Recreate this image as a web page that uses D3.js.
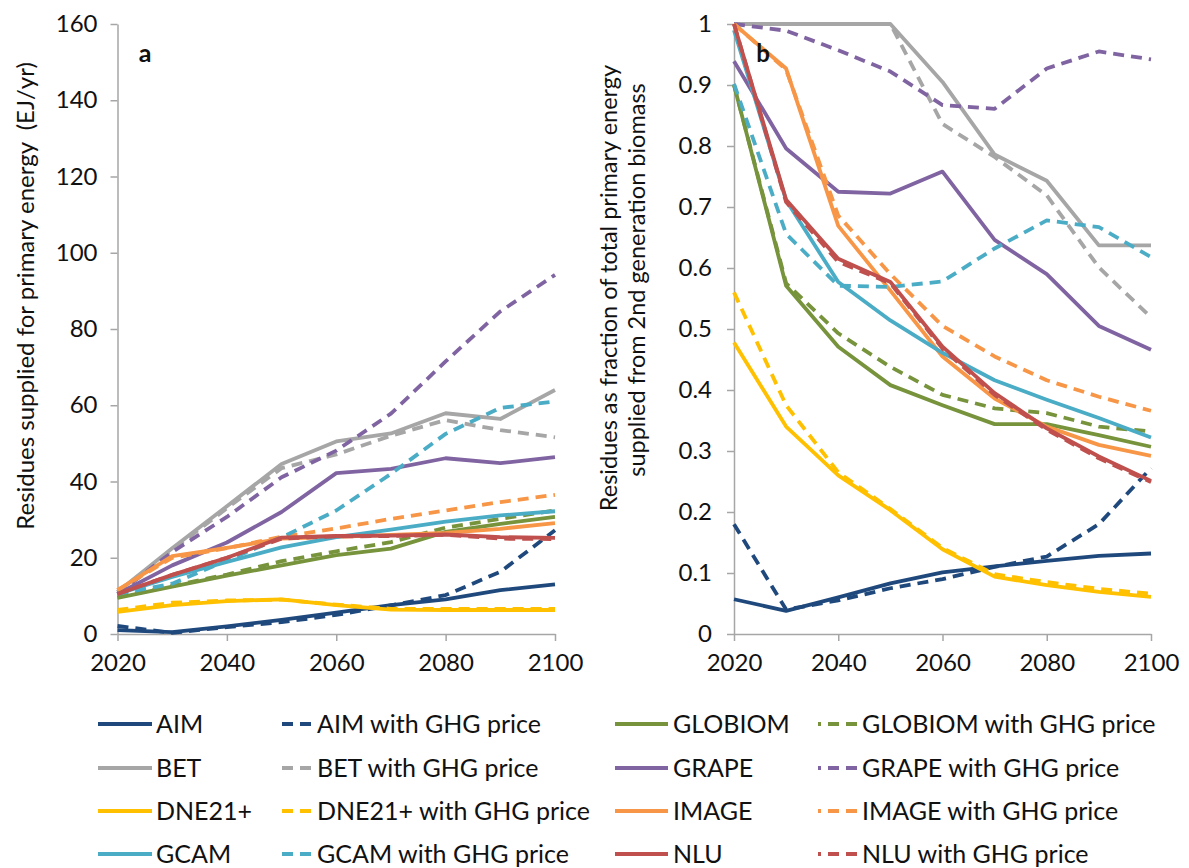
<!DOCTYPE html>
<html>
<head>
<meta charset="utf-8">
<script src="https://cdn.jsdelivr.net/npm/d3@7"></script>
<style>
  html, body { margin: 0; padding: 0; background: #fff; }
  svg { display: block; }
  text { font-family: "Lato", "Noto Sans", sans-serif; fill: #111; white-space: pre; }
</style>
</head>
<body>
<svg id="chart" width="1189" height="868"></svg>
<script>
// ---- data -------------------------------------------------------------
const years = [2020, 2030, 2040, 2050, 2060, 2070, 2080, 2090, 2100];
const xTicks = [2020, 2040, 2060, 2080, 2100];
const yTicksA = [0, 20, 40, 60, 80, 100, 120, 140, 160];
const yTicksB = [0, 0.1, 0.2, 0.3, 0.4, 0.5, 0.6, 0.7, 0.8, 0.9, 1];

const models = ["AIM", "GLOBIOM", "BET", "GRAPE", "DNE21+", "IMAGE", "GCAM", "NLU"];
const modelColors = ["#1F497D", "#77933C", "#A6A6A6", "#8064A2", "#FFC000", "#F79646", "#4BACC6", "#C0504D"];

// residues supplied for primary energy (EJ/yr)
const energyBase = {
  "AIM":     [1.0, 0.5, 2.0, 3.7, 5.6, 7.6, 9.1, 11.5, 13.0],
  "GLOBIOM": [9.5, 12.4, 15.3, 18.0, 20.7, 22.4, 26.8, 28.9, 30.7],
  "BET":     [11.0, 22.5, 33.5, 44.6, 50.5, 52.6, 57.9, 56.4, 64.0],
  "GRAPE":   [10.5, 18.0, 24.0, 32.0, 42.2, 43.3, 46.1, 44.8, 46.4],
  "DNE21+":  [5.8, 7.6, 8.6, 9.1, 7.6, 6.4, 6.3, 6.3, 6.3],
  "IMAGE":   [11.5, 20.4, 22.6, 25.0, 25.5, 26.0, 26.5, 27.6, 29.1],
  "GCAM":    [10.5, 15.0, 18.9, 22.7, 25.4, 27.4, 29.5, 31.1, 32.2],
  "NLU":     [10.5, 15.5, 20.0, 25.3, 25.7, 25.8, 26.1, 25.4, 25.2]
};
const energyGhg = {
  "AIM":     [2.1, 0.3, 1.8, 3.1, 5.0, 7.5, 10.2, 16.3, 27.2],
  "GLOBIOM": [9.7, 12.6, 15.6, 19.1, 21.7, 24.1, 27.9, 30.2, 32.4],
  "BET":     [11.0, 22.0, 33.0, 43.5, 47.1, 52.0, 56.1, 53.5, 51.6],
  "GRAPE":   [10.5, 21.5, 30.7, 41.1, 48.1, 57.8, 71.5, 84.6, 94.2],
  "DNE21+":  [6.3, 8.2, 8.8, 9.0, 7.7, 6.6, 6.6, 6.6, 6.6],
  "IMAGE":   [11.5, 20.0, 22.5, 25.5, 27.7, 30.2, 32.4, 34.6, 36.5],
  "GCAM":    [10.5, 13.2, 19.3, 25.3, 32.4, 42.0, 52.5, 59.3, 61.0],
  "NLU":     [10.5, 15.5, 20.0, 25.0, 25.6, 25.7, 26.0, 25.0, 24.9]
};

// residues as a fraction of 2nd generation biomass primary energy
const fractionBase = {
  "AIM":     [0.057, 0.038, 0.060, 0.083, 0.101, 0.111, 0.120, 0.128, 0.132],
  "GLOBIOM": [0.900, 0.571, 0.471, 0.408, 0.375, 0.344, 0.344, 0.326, 0.307],
  "BET":     [1.000, 1.000, 1.000, 1.000, 0.905, 0.786, 0.743, 0.637, 0.637],
  "GRAPE":   [0.939, 0.796, 0.725, 0.722, 0.758, 0.646, 0.590, 0.505, 0.466],
  "DNE21+":  [0.478, 0.340, 0.260, 0.203, 0.139, 0.094, 0.080, 0.069, 0.061],
  "IMAGE":   [1.000, 0.927, 0.669, 0.563, 0.455, 0.386, 0.340, 0.310, 0.292],
  "GCAM":    [0.990, 0.711, 0.577, 0.514, 0.461, 0.416, 0.384, 0.354, 0.322],
  "NLU":     [1.000, 0.712, 0.615, 0.577, 0.471, 0.395, 0.337, 0.291, 0.251]
};
const fractionGhg = {
  "AIM":     [0.180, 0.040, 0.055, 0.075, 0.090, 0.110, 0.127, 0.180, 0.272],
  "GLOBIOM": [0.900, 0.575, 0.493, 0.438, 0.392, 0.370, 0.362, 0.340, 0.332],
  "BET":     [1.000, 1.000, 1.000, 1.000, 0.836, 0.782, 0.719, 0.601, 0.519],
  "GRAPE":   [1.000, 0.989, 0.957, 0.922, 0.867, 0.861, 0.927, 0.955, 0.942],
  "DNE21+":  [0.560, 0.375, 0.265, 0.205, 0.141, 0.098, 0.085, 0.074, 0.066],
  "IMAGE":   [1.000, 0.925, 0.686, 0.590, 0.505, 0.455, 0.416, 0.389, 0.366],
  "GCAM":    [0.902, 0.656, 0.571, 0.569, 0.578, 0.632, 0.678, 0.667, 0.618],
  "NLU":     [1.000, 0.708, 0.610, 0.575, 0.468, 0.392, 0.335, 0.288, 0.249]
};

// ---- drawing ------------------------------------------------------------
const svg = d3.select("#chart");
svg.append("rect").attr("width", 1189).attr("height", 868).attr("fill", "#fff");

const LINE_W = 3.8;
const DASH = "11,7";
const AXIS_COLOR = "#A6A6A6";
const color = d3.scaleOrdinal().domain(models).range(modelColors);

// series drawn in legend order: each model, then its GHG-price variant
function seriesList(base, ghg) {
  const out = [];
  models.forEach(m => {
    out.push({ model: m, dashed: false, values: base[m] });
    out.push({ model: m, dashed: true, values: ghg[m] });
  });
  return out;
}

function drawPanel(cfg) {
  const g = svg.append("g");
  const x = d3.scaleLinear().domain([2020, 2100]).range([cfg.left, cfg.right]);
  const y = d3.scaleLinear().domain(cfg.yDomain).range([cfg.bottom, cfg.top]);

  const xAxis = d3.axisBottom(x).tickValues(xTicks).tickFormat(d3.format("d"))
    .tickSizeInner(7).tickSizeOuter(0).tickPadding(8);
  const yAxis = d3.axisLeft(y).tickValues(cfg.yTicks).tickFormat(cfg.fmt)
    .tickSizeInner(7).tickSizeOuter(0).tickPadding(cfg.yPad);

  const gx = g.append("g").attr("transform", `translate(0,${cfg.bottom})`).call(xAxis);
  const gy = g.append("g").attr("transform", `translate(${cfg.left},0)`).call(yAxis);
  [gx, gy].forEach(a => {
    a.select(".domain").attr("stroke", AXIS_COLOR).attr("stroke-width", 1.5);
    a.selectAll(".tick line").attr("stroke", AXIS_COLOR).attr("stroke-width", 1.5);
    a.selectAll(".tick text").attr("font-family", "Lato").attr("font-size", 24).attr("fill", "#111");
  });
  gx.selectAll(".tick text").attr("dy", "0.93em");

  const line = d3.line().x((d, i) => x(years[i])).y(d => y(d));
  seriesList(cfg.base, cfg.ghg).forEach(s => {
    g.append("path")
      .attr("d", line(s.values))
      .attr("fill", "none")
      .attr("stroke", color(s.model))
      .attr("stroke-width", LINE_W)
      .attr("stroke-linejoin", "round")
      .attr("stroke-dasharray", s.dashed ? DASH : null);
  });

  g.append("text").attr("x", cfg.tagX).attr("y", 62)
    .attr("text-anchor", "middle")
    .attr("font-family", cfg.tagFont).attr("font-weight", "bold")
    .attr("font-size", cfg.tagSize).text(cfg.tag);

  cfg.titles.forEach(t => {
    g.append("text")
      .attr("transform", `translate(${t.x},${t.y}) rotate(-90)`)
      .attr("text-anchor", "middle")
      .attr("font-size", t.size)
      .text(t.text);
  });
}

drawPanel({
  left: 117.5, right: 555, top: 24, bottom: 634,
  yDomain: [0, 160], yTicks: yTicksA, fmt: d3.format("d"), yPad: 13,
  base: energyBase, ghg: energyGhg,
  tag: "a", tagX: 145, tagFont: "Liberation Serif", tagSize: 25,
  titles: [{ x: 34, y: 296, size: 24, text: "Residues supplied for primary energy  (EJ/yr)" }]
});

drawPanel({
  left: 734, right: 1151, top: 24, bottom: 634,
  yDomain: [0, 1], yTicks: yTicksB, fmt: d => d === 0 || d === 1 ? String(d) : d3.format(".1f")(d), yPad: 15,
  base: fractionBase, ghg: fractionGhg,
  tag: "b", tagX: 763, tagFont: "Lato", tagSize: 24,
  titles: [
    { x: 617, y: 288, size: 23.5, text: "Residues as fraction of total primary energy" },
    { x: 645, y: 280, size: 23.5, text: "supplied from 2nd generation biomass" }
  ]
});

// ---- legend -------------------------------------------------------------
const legendRows = [724, 768, 811, 854];
// columns: solid model line, its GHG-price dashed variant, next model, its variant
const legendCols = [
  { x1: 98, x2: 152, tx: 156, offset: 0 },
  { x1: 282, x2: 312, tx: 317, offset: 0 },
  { x1: 615, x2: 668, tx: 673, offset: 0 },
  { x1: 818, x2: 857, tx: 862, offset: 8 }
];
const legend = svg.append("g");
models.forEach((m, i) => {
  const row = legendRows[Math.floor(i / 2)];
  const side = i % 2;
  [false, true].forEach(dashed => {
    const col = legendCols[side * 2 + (dashed ? 1 : 0)];
    legend.append("line")
      .attr("x1", col.x1).attr("x2", col.x2).attr("y1", row).attr("y2", row)
      .attr("stroke", color(m)).attr("stroke-width", LINE_W)
      .attr("stroke-dasharray", dashed ? DASH : null)
      .attr("stroke-dashoffset", col.offset);
    legend.append("text")
      .attr("x", col.tx).attr("y", row + 9)
      .attr("font-size", 25)
      .text(dashed ? `${m} with GHG price` : m);
  });
});
</script>
</body>
</html>
